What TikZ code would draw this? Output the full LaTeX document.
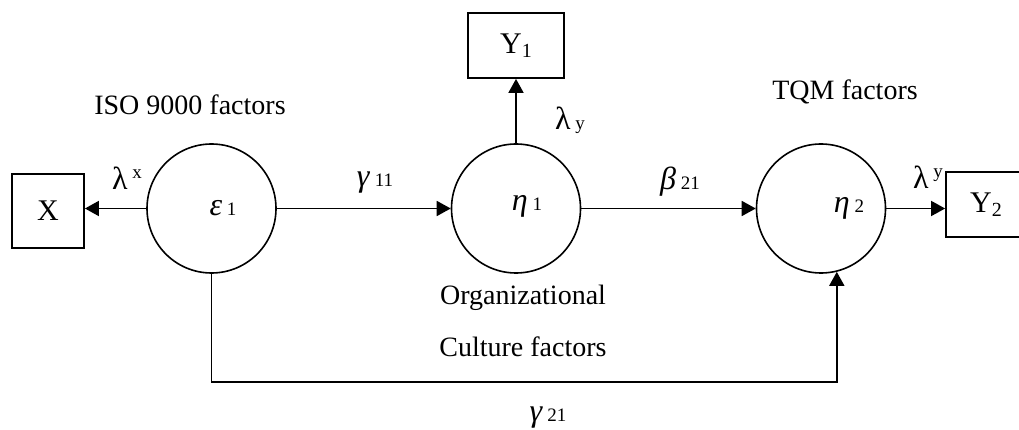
\documentclass[tikz,border=0pt]{standalone}
\usepackage{fontspec}
\setmainfont{Liberation Serif}
\usetikzlibrary{arrows.meta}
\newcommand{\gsub}[2]{{\fontsize{32}{32}\selectfont #1}\,{\fontsize{19}{19}\selectfont #2}}
\newcommand{\gsup}[2]{{\fontsize{32}{32}\selectfont #1}\,\raisebox{11pt}{\fontsize{19}{19}\selectfont #2}}
\newcommand{\ysub}[1]{Y\raisebox{-4pt}{\fontsize{20}{20}\selectfont #1}}
\tikzset{
  var/.style={draw, line width=1.8pt, minimum width=#1, minimum height=65pt, inner sep=0pt, font=\fontsize{30}{30}\selectfont},
  latent/.style={draw, circle, line width=1.6pt, minimum size=129pt, inner sep=0pt},
  lbl/.style={font=\fontsize{28}{32}\selectfont, inner sep=0pt},
  arr/.style={line width=1.8pt, -{Triangle[length=14pt,width=15pt]}}
}
\begin{document}
\begin{tikzpicture}[x=1pt,y=-1pt]
  \useasboundingbox (0,0) rectangle (1019,430);
  % latent factors
  \node[latent] (e1) at (211.5,208.5) {};
  \node[latent] (n1) at (516,208.5) {};
  \node[latent] (n2) at (821,208.5) {};
  % observed variables
  \node[var=72pt, minimum height=74pt] (x) at (48,211) {X};
  \node[var=96pt] (y1) at (516,45.5) {\ysub{1}};
  \node[var=80pt] (y2) at (986,204.5) {\ysub{2}};
  % paths
  \draw[arr] (e1.west) -- (e1.west -| x.east);
  \draw[arr] (e1) -- (n1);
  \draw[arr] (n1) -- (n2);
  \draw[arr] (n2.east) -- (n2.east -| y2.west);
  \draw[arr] (n1) -- (y1);
  \draw[arr] (e1.south) -- ++(0,108) -| (n2.-76);
  % factor names
  \node[lbl] at (190,105) {ISO 9000 factors};
  \node[lbl] at (845,92) {TQM factors};
  \node[lbl] at (523,298) {Organizational};
  \node[lbl] at (523,347) {Culture factors};
  % coefficients
  \node[lbl] at (223,208) {\gsub{\textit{ε}}{1}};
  \node[lbl] at (527,206) {\gsub{\textit{η}}{1}};
  \node[lbl] at (849,208) {\gsub{\textit{η}}{2}};
  \node[lbl] at (127,178) {\gsup{λ}{x}};
  \node[lbl] at (570,120) {\gsub{λ}{y}};
  \node[lbl] at (928,177) {\gsup{λ}{y}};
  \node[lbl] at (375,183) {\gsub{\textit{γ}}{11}};
  \node[lbl] at (680,182) {\gsub{\textit{β}}{21}};
  \node[lbl] at (548,418) {\gsub{\textit{γ}}{21}};
\end{tikzpicture}
\end{document}
